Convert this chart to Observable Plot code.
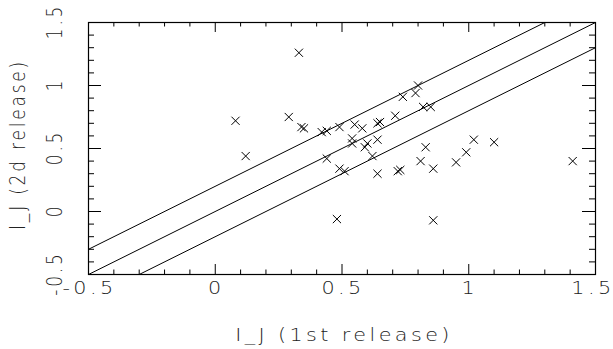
<!DOCTYPE html>
<html>
<head>
<meta charset="utf-8">
<script src="https://cdn.jsdelivr.net/npm/d3@7"></script>
<script src="https://cdn.jsdelivr.net/npm/@observablehq/plot@0.6"></script>
<style>
  html, body { margin: 0; padding: 0; background: #fff; }
  svg text { letter-spacing: 2.8px; font-weight: 300; }
</style>
</head>
<body>
<div id="chart"></div>
<script>
// I_J magnitudes, 1st release (x) vs 2d release (y)
const firstRelease = [0.33, 0.08, 0.12, 0.29, 0.34, 0.35, 0.42, 0.44, 0.49, 0.44, 0.49, 0.51, 0.48,
  0.55, 0.58, 0.64, 0.65, 0.71, 0.74, 0.79, 0.80, 0.82, 0.85,
  0.54, 0.54, 0.59, 0.60, 0.64, 0.62, 0.64, 0.72, 0.73,
  0.83, 0.81, 0.86, 0.86, 0.95, 0.99, 1.02, 1.10, 1.41];
const secondRelease = [1.26, 0.72, 0.44, 0.75, 0.67, 0.66, 0.63, 0.64, 0.67, 0.42, 0.34, 0.32, -0.06,
  0.69, 0.66, 0.70, 0.71, 0.76, 0.91, 0.94, 1.00, 0.83, 0.83,
  0.58, 0.54, 0.51, 0.54, 0.57, 0.44, 0.30, 0.32, 0.33,
  0.51, 0.40, 0.34, -0.07, 0.39, 0.47, 0.57, 0.55, 0.40];
const lineOffsets = [0.2, 0, -0.2];
const xDomain = [-0.5, 1.5];
const yDomain = [-0.5, 1.5];
const xTickLabels = [-0.5, 0, 0.5, 1];
const xLastTickLabel = [1.5];
const yTickLabels = [-0.5, 0, 0.5, 1, 1.5];
const xTitle = "I_J (1st release)";
const yTitle = "I_J (2d release)";

const points = firstRelease.map((x, i) => ({x, y: secondRelease[i]}));
const lines = lineOffsets.flatMap(o => xDomain.map(x => ({x, y: x + o, o})));

const W = 613, H = 349;
const mL = 88, mR = 18, mT = 22, mB = 75;
const pxX = (xDomain[1] - xDomain[0]) / (W - mL - mR);
const pxY = (yDomain[1] - yDomain[0]) / (H - mT - mB);
const minorX = d3.ticks(xDomain[0], xDomain[1], 20);
const minorY = d3.ticks(yDomain[0], yDomain[1], 20);
const isMajor = v => Math.abs(v * 2 - Math.round(v * 2)) < 1e-9;
const xTickLen = v => (isMajor(v) ? 10 : 4.5);
const yTickLen = v => (isMajor(v) ? 13 : 6);
const ink = "#222";
const fmt = d => String(d);
const stretch = 1.22; // glyphs are wider than tall in the reference

const chart = Plot.plot({
  width: W, height: H,
  marginLeft: mL, marginRight: mR, marginTop: mT, marginBottom: mB,
  style: {fontFamily: "DejaVu Sans, sans-serif", fontSize: "17px", background: "#fff", color: ink},
  x: {domain: xDomain, axis: null},
  y: {domain: yDomain, axis: null},
  marks: [
    Plot.line(lines, {x: "x", y: "y", z: "o", stroke: "black", strokeWidth: 1, clip: true}),
    Plot.dot(points, {x: "x", y: "y", symbol: "times", r: 3.8, stroke: "black", strokeWidth: 1}),
    // inward ticks on all four sides
    Plot.ruleX(minorX, {x: d => d, y1: yDomain[0], y2: d => yDomain[0] + xTickLen(d) * pxY, stroke: "black"}),
    Plot.ruleX(minorX, {x: d => d, y1: yDomain[1], y2: d => yDomain[1] - xTickLen(d) * pxY, stroke: "black"}),
    Plot.ruleY(minorY, {y: d => d, x1: xDomain[0], x2: d => xDomain[0] + yTickLen(d) * pxX, stroke: "black"}),
    Plot.ruleY(minorY, {y: d => d, x1: xDomain[1], x2: d => xDomain[1] - yTickLen(d) * pxX, stroke: "black"}),
    Plot.frame({stroke: "black", strokeWidth: 1.2}),
    // tick labels
    Plot.text(xTickLabels, {x: d => d, y: yDomain[0], text: fmt, lineAnchor: "top", dy: 19, dx: 1, fill: ink}),
    Plot.text(xLastTickLabel, {x: d => d, y: yDomain[0], text: fmt, textAnchor: "end", lineAnchor: "top", dy: 19, dx: 19, fill: ink}),
    Plot.text(yTickLabels, {x: xDomain[0], y: d => d, text: fmt, rotate: -90, lineAnchor: "bottom", dx: -27, dy: -1, fill: ink}),
    // titles
    Plot.text([xTitle], {frameAnchor: "bottom", textAnchor: "middle", text: d => d, lineAnchor: "top", dy: 66, dx: 2, fill: ink}),
    Plot.text([yTitle], {frameAnchor: "left", textAnchor: "middle", text: d => d, rotate: -90, lineAnchor: "bottom", dx: -64, dy: -4, fill: ink})
  ]
});
document.getElementById("chart").appendChild(chart);

// widen glyphs horizontally (in screen space) to mimic the reference lettering
chart.querySelectorAll("text").forEach(t => {
  let tr = t.getAttribute("transform") || "";
  const hasXY = t.hasAttribute("x") || t.hasAttribute("y");
  if (hasXY) {
    const x = +t.getAttribute("x") || 0, y = +t.getAttribute("y") || 0;
    t.removeAttribute("x"); t.removeAttribute("y");
    tr += ` translate(${x},${y})`;
  }
  const rotated = /rotate\(/.test(tr);
  tr += rotated ? ` scale(1,${stretch})` : ` scale(${stretch},1)`;
  t.setAttribute("transform", tr);
});
</script>
</body>
</html>
